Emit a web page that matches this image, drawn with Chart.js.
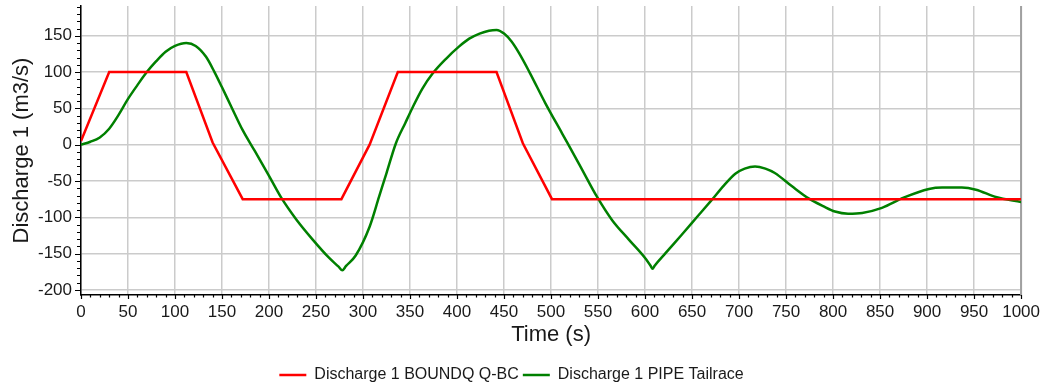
<!DOCTYPE html>
<html>
<head>
<meta charset="utf-8">
<script src="https://cdn.jsdelivr.net/npm/chart.js@4/dist/chart.umd.min.js"></script>
<style>
  html, body { margin: 0; padding: 0; background: #ffffff; }
  #wrap { width: 1047px; height: 389px; position: relative; }
</style>
</head>
<body>
<div id="wrap"><canvas id="c" width="1047" height="389"></canvas></div>
<script>
// ---- Data ----
const boundqTime  = [0, 30, 112, 140, 172, 277, 307, 337, 442, 470, 501, 1000];
const boundqValue = [5, 100, 100, 3, -75, -75, 0, 100, 100, 2, -75, -75];

const pipeTime  = [0, 10, 20, 30, 40, 50, 60, 70, 80, 90, 100, 112, 122, 133, 142, 150, 160, 172, 185, 200,
                   213, 229, 246, 264, 274, 278, 282, 292, 307, 317, 325, 335, 345, 353, 363, 374, 388, 402, 413, 424, 434, 442,
                   450, 458, 466, 477, 494, 512, 530, 549, 565, 583, 600, 606, 608, 610, 622, 639, 655, 671, 684, 696, 706, 717,
                   728, 738, 756, 774, 790, 802, 816, 831, 852, 875, 902, 916, 937, 952, 973, 1000];
const pipeValue = [0, 4, 10, 22, 41, 63, 82, 100, 115, 128, 136, 140, 136, 121, 100, 79, 52, 20, -9, -43,
                   -73, -103, -130, -156, -168, -173, -167, -153, -113, -72, -39, 2, 30, 52, 77, 98, 118, 135, 146, 153, 157, 158,
                   153, 142, 126, 100, 57, 15, -27, -72, -104, -131, -156, -167, -171, -167, -149, -124, -100, -76, -56, -40, -33, -30,
                   -33, -39, -57, -74, -85, -92, -95, -94, -87, -73, -61, -59, -59, -62, -72, -79];

const seriesNames = ['Discharge 1 BOUNDQ Q-BC', 'Discharge 1 PIPE Tailrace'];
const xTitle = 'Time (s)';
const yTitle = 'Discharge 1 (m3/s)';
const xRange = [0, 1000];
const yRange = [-207, 191];
const xTickLabels = [0, 50, 100, 150, 200, 250, 300, 350, 400, 450, 500, 550, 600, 650, 700, 750, 800, 850, 900, 950, 1000];
const yTickLabels = [-200, -150, -100, -50, 0, 50, 100, 150];

const toPoints = (xs, ys) => xs.map((t, i) => ({ x: t, y: ys[i] }));

const FONT = '"Liberation Sans", Arial, sans-serif';
const TEXT = '#1a1a1a';

// Fix legend block height so it sits where the reference has it
const legendHeight = {
  id: 'legendHeight',
  afterInit(chart) {
    const lg = chart.legend;
    if (lg && !lg._wrapped) {
      const orig = lg.fit;
      lg.fit = function () { orig.call(this); this.height = 26; };
      lg._wrapped = true;
    }
  }
};

// Minor tick marks + right border, drawn through the scales
const minorTicks = {
  id: 'minorTicks',
  beforeDatasetsDraw(chart) {
    const { ctx, chartArea } = chart;
    ctx.save();
    ctx.strokeStyle = '#a0a0a0';
    ctx.lineWidth = 2;
    ctx.beginPath();
    ctx.moveTo(chartArea.right, chartArea.top);
    ctx.lineTo(chartArea.right, chartArea.bottom);
    ctx.stroke();
    ctx.restore();
  },
  afterDraw(chart) {
    const { ctx, chartArea, scales } = chart;
    const xs = scales.x, ys = scales.y;
    ctx.save();
    ctx.strokeStyle = '#000';
    ctx.lineWidth = 1.2;
    ctx.beginPath();
    for (let v = xs.min; v <= xs.max + 1e-9; v += 10) {
      const px = Math.round(xs.getPixelForValue(v)) + 0.5;
      const len = (v % 50 === 0) ? 4 : 2.5;
      ctx.moveTo(px, chartArea.bottom);
      ctx.lineTo(px, chartArea.bottom + len);
    }
    const start = Math.ceil(ys.min / 10) * 10;
    for (let v = start; v <= ys.max + 1e-9; v += 10) {
      const py = Math.round(ys.getPixelForValue(v)) + 0.5;
      const len = (v % 50 === 0) ? 6 : 4;
      ctx.moveTo(chartArea.left, py);
      ctx.lineTo(chartArea.left - len, py);
    }
    ctx.stroke();
    ctx.restore();
  }
};

new Chart(document.getElementById('c'), {
  type: 'line',
  data: {
    datasets: [
      {
        label: seriesNames[0],
        data: toPoints(boundqTime, boundqValue),
        borderColor: '#ff0000',
        backgroundColor: '#ff0000',
        borderWidth: 2.5,
        pointRadius: 0,
        tension: 0
      },
      {
        label: seriesNames[1],
        data: toPoints(pipeTime, pipeValue),
        borderColor: '#008000',
        backgroundColor: '#008000',
        borderWidth: 2.5,
        pointRadius: 0,
        cubicInterpolationMode: 'monotone'
      }
    ]
  },
  options: {
    responsive: false,
    animation: false,
    devicePixelRatio: 1,
    layout: { padding: { top: 6, right: 24, bottom: 0, left: 0 } },
    plugins: {
      legend: {
        position: 'bottom',
        labels: {
          usePointStyle: true,
          pointStyle: 'line',
          pointStyleWidth: 27,
          boxHeight: 16,
          padding: 4,
          color: TEXT,
          font: { family: FONT, size: 16, lineHeight: 1 }
        }
      },
      tooltip: { enabled: false }
    },
    scales: {
      x: {
        type: 'linear',
        min: xRange[0],
        max: xRange[1],
        afterBuildTicks(scale) { scale.ticks = xTickLabels.map(v => ({ value: v })); },
        afterFit(scale) { scale.height = 68; },
        border: { color: '#000', width: 1.5 },
        grid: { color: '#cbcbcb', lineWidth: 1.5, drawTicks: false },
        ticks: {
          autoSkip: false,
          maxRotation: 0,
          padding: 7,
          color: TEXT,
          font: { family: FONT, size: 17 },
          callback: (v) => String(v)
        },
        title: {
          display: true,
          text: xTitle,
          color: TEXT,
          font: { family: FONT, size: 22 },
          padding: { top: 0, bottom: 15 }
        }
      },
      y: {
        type: 'linear',
        min: yRange[0],
        max: yRange[1],
        afterBuildTicks(scale) { scale.ticks = yTickLabels.map(v => ({ value: v })); },
        afterFit(scale) { scale.width = 81; scale.paddingTop = 0; scale.paddingBottom = 0; },
        border: { color: '#000', width: 1.5 },
        grid: { color: '#cbcbcb', lineWidth: 1.5, drawTicks: false },
        ticks: {
          padding: 9,
          color: TEXT,
          font: { family: FONT, size: 17 },
          callback: (v) => String(v)
        },
        title: {
          display: true,
          text: yTitle,
          color: TEXT,
          font: { family: FONT, size: 22 },
          padding: { top: 9, bottom: 0 }
        }
      }
    }
  },
  plugins: [legendHeight, minorTicks]
});
</script>
</body>
</html>
